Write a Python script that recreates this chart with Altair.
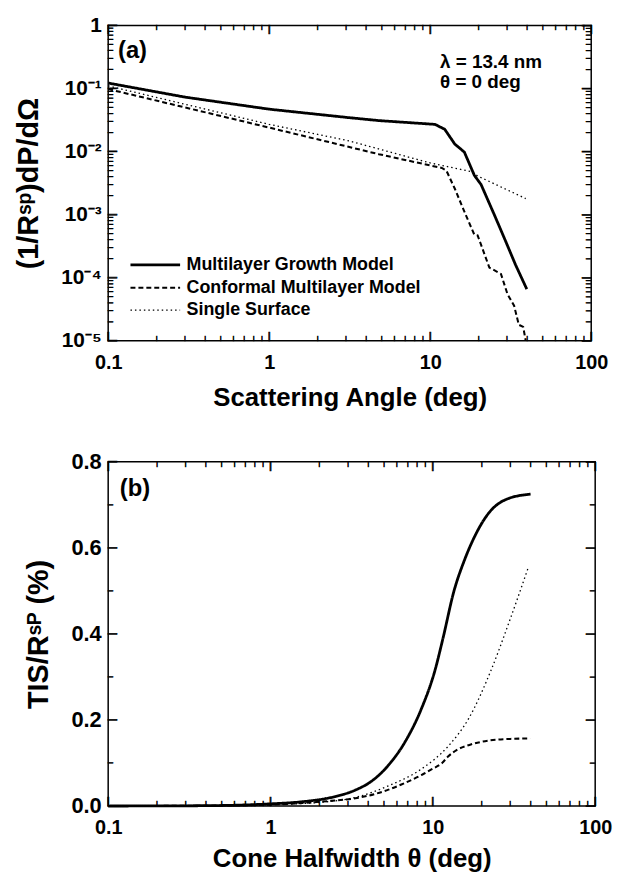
import altair as alt
import pandas as pd

FONT = "Liberation Sans"
SERIES = ["Multilayer Growth Model", "Conformal Multilayer Model", "Single Surface"]

# ---------------- Panel (a): scattering distribution ----------------
A_MLG_X = [0.1, 0.3, 1.0, 3.13, 4.79, 10.7, 12.3, 14.2, 16.3, 18.8, 20.7, 25.0, 28.8, 33.9, 39.8]
A_MLG_Y = [0.122, 0.073, 0.047, 0.0345, 0.031, 0.027, 0.0226, 0.0132, 0.0098, 0.0042, 0.0030,
           0.0010, 4.3e-4, 1.6e-4, 6.6e-5]
A_CML_X = [0.1, 1.0, 4.79, 11.8, 12.6, 14.2, 16.6, 18.8, 19.7, 23.3, 27.5, 30.2, 33.2, 35.5, 37.8, 39.2]
A_CML_Y = [0.098, 0.024, 0.0091, 0.0055, 0.0050, 0.0026, 0.0010, 4.8e-4, 4.7e-4, 1.45e-4, 1.15e-4,
           5.5e-5, 3.6e-5, 1.8e-5, 1.66e-5, 1.0e-5]
A_SS_X = [0.1, 1.0, 3.13, 4.79, 10.0, 18.1, 19.7, 39.2]
A_SS_Y = [0.11, 0.027, 0.0148, 0.011, 0.0066, 0.0048, 0.0041, 0.0018]

# ---------------- Panel (b): TIS vs cone halfwidth ----------------
B_MLG_X = [0.1, 0.3, 0.5, 1.0, 1.57, 2.09, 2.5, 3.33, 4.2, 5.33, 6.74, 8.5, 10.3, 11.5, 13.5, 15.6,
           17.5, 22.0, 28.0, 40.0]
B_MLG_Y = [0.0, 0.0005, 0.0012, 0.005, 0.010, 0.016, 0.022, 0.037, 0.058, 0.095, 0.149, 0.226,
           0.315, 0.387, 0.50, 0.57, 0.615, 0.68, 0.712, 0.725]
B_CML_X = [0.1, 0.5, 1.0, 1.57, 2.5, 3.33, 4.0, 5.33, 6.4, 8.5, 9.8, 11.4, 12.4, 14.0, 16.8, 21.9, 30.0, 39.8]
B_CML_Y = [0.0, 0.001, 0.003, 0.007, 0.013, 0.018, 0.024, 0.038, 0.05, 0.072, 0.085, 0.10, 0.115,
           0.13, 0.142, 0.152, 0.156, 0.157]
B_SS_X = [0.1, 0.5, 1.0, 2.5, 3.33, 5.33, 8.5, 12.5, 16.6, 22.8, 29.4, 38.6]
B_SS_Y = [0.0, 0.001, 0.003, 0.012, 0.020, 0.047, 0.086, 0.14, 0.203, 0.315, 0.426, 0.553]

# ---------------- ticks and labels ----------------
X_MAJOR = [0.1, 1, 10, 100]
X_LABELS = ["0.1", "1", "10", "100"]
MULT = [2, 3, 4, 5, 6, 7, 8, 9]
X_MINOR = [m * d for d in [0.1, 1, 10] for m in MULT]

YA_MAJOR = [1e-5, 1e-4, 1e-3, 1e-2, 1e-1, 1]
YA_LABELS = ["10⁻⁵", "10⁻⁴", "10⁻³", "10⁻²", "10⁻¹", "1"]
YA_MINOR = [m * d for d in [1e-5, 1e-4, 1e-3, 1e-2, 1e-1] for m in MULT]

YB_MAJOR = [0.0, 0.2, 0.4, 0.6, 0.8]
YB_LABELS = ["0.0", "0.2", "0.4", "0.6", "0.8"]
YB_MINOR = [0.1, 0.3, 0.5, 0.7]

ANNOT_A = pd.DataFrame({"x": [11.5, 11.5], "y": [0.21, 0.1], "t": ["λ = 13.4 nm", "θ = 0 deg"]})
PANEL_A = pd.DataFrame({"x": [0.115], "y": [0.30], "t": ["(a)"]})
PANEL_B = pd.DataFrame({"x": [0.118], "y": [0.72], "t": ["(b)"]})

# inward ticks drawn as a rotated bar glyph: its length is about 0.94 x font size
MAJ_FS = 9
MIN_FS = 5


def frame(xs_list, ys_list):
    rows = []
    for name, xs, ys in zip(SERIES, xs_list, ys_list):
        for i, (x, y) in enumerate(zip(xs, ys)):
            rows.append({"series": name, "x": x, "y": y, "i": i})
    return pd.DataFrame(rows)


def tick_frame(majors, minors, edge):
    return pd.DataFrame({"v": list(majors) + list(minors),
                         "edge": [edge] * (len(majors) + len(minors)),
                         "fs": [MAJ_FS] * len(majors) + [MIN_FS] * len(minors)})


def label_expr(majors, labels):
    expr = "''"
    for v, lab in zip(majors, labels):
        expr = "datum.value == %r ? '%s' : (%s)" % (float(v), lab, expr)
    return expr


COMMON = dict(domain=False, grid=False, ticks=False, tickSize=0, labelFont=FONT,
              labelFontWeight="bold", labelColor="black", titleFont=FONT, titleFontWeight="bold",
              titleColor="black", labelOverlap=False, labelFlush=False)


def axis_major(orient, majors, labels, title, label_size, title_size, title_pad, label_pad):
    return alt.Axis(orient=orient, values=majors, labelExpr=label_expr(majors, labels),
                    labelFontSize=label_size, title=title, titleFontSize=title_size,
                    titlePadding=title_pad, labelPadding=label_pad, **COMMON)


def tick_layers(xs, ys, xdom, ydom, x_major, x_minor, y_major, y_minor):
    style = dict(text="|", align="center", baseline="bottom", font=FONT, fontWeight="bold",
                 color="black", stroke="black", strokeWidth=0.6)
    size = alt.Size("fs:Q", scale=None, legend=None)
    out = []
    for angle, yd in ((0, ydom[0]), (180, ydom[1])):
        out.append(alt.Chart(tick_frame(x_major, x_minor, yd)).mark_text(angle=angle, **style).encode(
            x=alt.X("v:Q", scale=xs, axis=None),
            y=alt.Y("edge:Q", scale=ys, axis=None),
            size=size))
    for angle, xd in ((90, xdom[0]), (270, xdom[1])):
        out.append(alt.Chart(tick_frame(y_major, y_minor, xd)).mark_text(angle=angle, **style).encode(
            y=alt.Y("v:Q", scale=ys, axis=None),
            x=alt.X("edge:Q", scale=xs, axis=None),
            size=size))
    return out


dash_scale = alt.Scale(domain=SERIES, range=[[1, 0], [5, 3], [1.5, 3]])
width_scale = alt.Scale(domain=SERIES, range=[2.8, 1.3, 1.5])
legend = alt.Legend(title=None, orient="none", legendX=37, legendY=231,
                    symbolType="M-2.78,0H2.78", symbolSize=324, symbolStrokeColor="black",
                    symbolFillColor="transparent", labelFont=FONT, labelFontSize=18,
                    labelFontWeight="bold", labelColor="black", rowPadding=3, labelOffset=21,
                    labelLimit=400)

text_style = dict(align="left", baseline="alphabetic", font=FONT, fontWeight="bold", color="black")

# ---- panel (a)
dfa = frame([A_MLG_X, A_CML_X, A_SS_X], [A_MLG_Y, A_CML_Y, A_SS_Y])
XA_DOM = [0.1, 100]
YA_DOM = [1e-5, 1]
xa_scale = alt.Scale(type="log", domain=XA_DOM)
ya_scale = alt.Scale(type="log", domain=YA_DOM)

lines_a = alt.Chart(dfa).mark_line(color="black", clip=True).encode(
    x=alt.X("x:Q", scale=xa_scale,
            axis=axis_major("bottom", X_MAJOR, X_LABELS, "Scattering Angle (deg)", 20, 26, 12, 12)),
    y=alt.Y("y:Q", scale=ya_scale,
            axis=axis_major("left", YA_MAJOR, YA_LABELS, "(1/Rˢᵖ)dP/dΩ", 21, 29, 18, 7)),
    strokeDash=alt.StrokeDash("series:N", scale=dash_scale, legend=legend),
    strokeWidth=alt.StrokeWidth("series:N", scale=width_scale, legend=legend),
    order="i:Q",
)
annot_a = alt.Chart(ANNOT_A).mark_text(fontSize=19, **text_style).encode(
    x=alt.X("x:Q", scale=xa_scale, axis=None), y=alt.Y("y:Q", scale=ya_scale, axis=None), text="t:N")
label_a = alt.Chart(PANEL_A).mark_text(fontSize=24, **text_style).encode(
    x=alt.X("x:Q", scale=xa_scale, axis=None), y=alt.Y("y:Q", scale=ya_scale, axis=None), text="t:N")

panel_a = alt.layer(
    lines_a,
    *tick_layers(xa_scale, ya_scale, XA_DOM, YA_DOM, X_MAJOR, X_MINOR, YA_MAJOR, YA_MINOR),
    annot_a, label_a
).resolve_axis(x="independent", y="independent").properties(width=487, height=318)

# ---- panel (b)
dfb = frame([B_MLG_X, B_CML_X, B_SS_X], [B_MLG_Y, B_CML_Y, B_SS_Y])
XB_DOM = [0.1, 100]
YB_DOM = [0.0, 0.8]
xb_scale = alt.Scale(type="log", domain=XB_DOM)
yb_scale = alt.Scale(domain=YB_DOM, nice=False)

lines_b = alt.Chart(dfb).mark_line(color="black", interpolate="monotone").encode(
    x=alt.X("x:Q", scale=xb_scale,
            axis=axis_major("bottom", X_MAJOR, X_LABELS, "Cone Halfwidth θ (deg)", 20, 26, 8, 12)),
    y=alt.Y("y:Q", scale=yb_scale,
            axis=axis_major("left", YB_MAJOR, YB_LABELS, "TIS/Rˢᴾ (%)", 22, 29, 18, 7)),
    strokeDash=alt.StrokeDash("series:N", scale=dash_scale, legend=None),
    strokeWidth=alt.StrokeWidth("series:N", scale=width_scale, legend=None),
    order="i:Q",
)
label_b = alt.Chart(PANEL_B).mark_text(fontSize=24, **text_style).encode(
    x=alt.X("x:Q", scale=xb_scale, axis=None), y=alt.Y("y:Q", scale=yb_scale, axis=None), text="t:N")

panel_b = alt.layer(
    lines_b,
    *tick_layers(xb_scale, yb_scale, XB_DOM, YB_DOM, X_MAJOR, X_MINOR, YB_MAJOR, YB_MINOR),
    label_b
).resolve_axis(x="independent", y="independent").properties(width=491, height=347)

chart = alt.vconcat(panel_a, panel_b, spacing=39).resolve_scale(
    x="independent", y="independent", strokeDash="independent", strokeWidth="independent",
    size="independent"
).properties(
    padding={"left": 5, "top": 2, "right": 5, "bottom": 0}
).configure(font=FONT).configure_view(stroke="black", strokeWidth=1.5)

chart.save("out.html", embed_options={"renderer": "svg", "actions": False})
